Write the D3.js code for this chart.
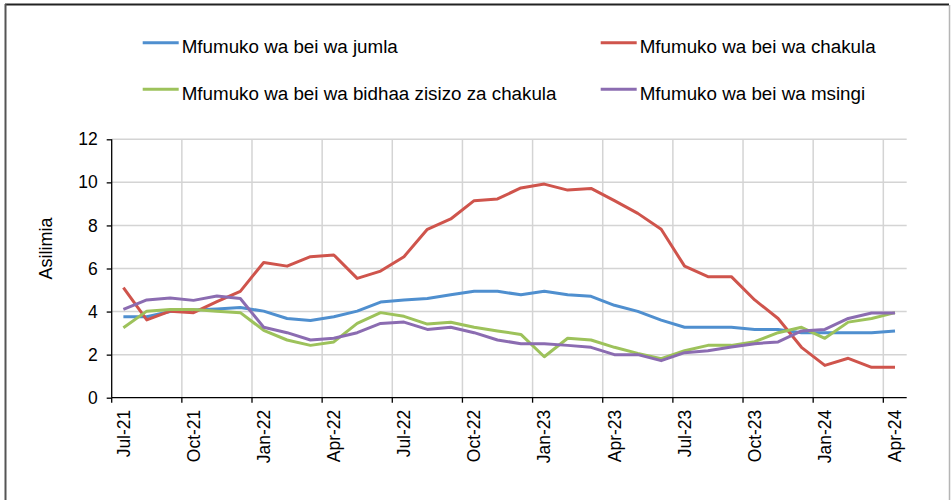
<!DOCTYPE html>
<html>
<head>
<meta charset="utf-8">
<script src="https://cdn.jsdelivr.net/npm/d3@7"></script>
<style>
  body { margin: 0; background: #fff; }
  svg text { font-family: "Liberation Sans", Arial, Helvetica, sans-serif; fill: #000; }
  .grid line { stroke: #d4d4d4; stroke-width: 1.5; }
</style>
</head>
<body>
<script>
var months = ["Jul-21","Aug-21","Sep-21","Oct-21","Nov-21","Dec-21",
              "Jan-22","Feb-22","Mar-22","Apr-22","May-22","Jun-22",
              "Jul-22","Aug-22","Sep-22","Oct-22","Nov-22","Dec-22",
              "Jan-23","Feb-23","Mar-23","Apr-23","May-23","Jun-23",
              "Jul-23","Aug-23","Sep-23","Oct-23","Nov-23","Dec-23",
              "Jan-24","Feb-24","Mar-24","Apr-24"];

var jumla   = [3.76, 3.76, 4.0, 4.07, 4.12, 4.19, 4.02, 3.68, 3.59, 3.76, 4.02, 4.44,
               4.54, 4.61, 4.78, 4.94, 4.94, 4.78, 4.94, 4.78, 4.71, 4.29, 4.01, 3.6,
               3.27, 3.27, 3.27, 3.17, 3.17, 3.02, 3.02, 3.02, 3.02, 3.1];
var chakula = [5.11, 3.61, 4.02, 3.95, 4.46, 4.94, 6.28, 6.11, 6.55, 6.63, 5.54, 5.88,
               6.55, 7.82, 8.3, 9.15, 9.23, 9.74, 9.92, 9.64, 9.72, 9.15, 8.56, 7.82,
               6.11, 5.62, 5.62, 4.54, 3.68, 2.34, 1.5, 1.83, 1.41, 1.41];
var bidhaa  = [3.25, 4.02, 4.1, 4.1, 4.02, 3.95, 3.13, 2.68, 2.43, 2.59, 3.45, 3.95,
               3.78, 3.42, 3.5, 3.27, 3.1, 2.94, 1.9, 2.76, 2.68, 2.34, 2.06, 1.81,
               2.18, 2.43, 2.43, 2.6, 3.02, 3.27, 2.76, 3.51, 3.68, 3.95];
var msingi  = [4.1, 4.54, 4.63, 4.52, 4.72, 4.61, 3.27, 3.02, 2.68, 2.76, 3.02, 3.45,
               3.51, 3.17, 3.27, 3.02, 2.68, 2.51, 2.51, 2.43, 2.34, 2.0, 2.0, 1.72,
               2.09, 2.18, 2.35, 2.51, 2.59, 3.1, 3.17, 3.68, 3.93, 3.93];

var seriesNames = ["Mfumuko wa bei wa jumla", "Mfumuko wa bei wa chakula",
                   "Mfumuko wa bei wa bidhaa zisizo za chakula", "Mfumuko wa bei wa msingi"];
var yTicks = [0, 2, 4, 6, 8, 10, 12];
var yLabel = "Asilimia";

var colors = ["#4f8fcf", "#cf544c", "#9dc25b", "#8b6cb1"];
var series = [jumla, chakula, bidhaa, msingi].map(function(v, i) {
  return { name: seriesNames[i], values: v, color: colors[i] };
});

var width = 951,
    height = 500;

var svg = d3.select("body")
  .append("svg")
  .attr("width", width)
  .attr("height", height);

// outer frame
svg.append("line").attr("x1", 5).attr("x2", 949).attr("y1", 4.5).attr("y2", 4.5)
    .attr("stroke", "#222").attr("stroke-width", 2);
svg.append("line").attr("x1", 5.5).attr("x2", 5.5).attr("y1", 4).attr("y2", height)
    .attr("stroke", "#555").attr("stroke-width", 2);
svg.append("line").attr("x1", 949.5).attr("x2", 949.5).attr("y1", 5).attr("y2", height)
    .attr("stroke", "#b5b5b5").attr("stroke-width", 1.5);

var x = d3.scaleBand()
    .domain(months)
    .range([111.7, 906.7]);

var y = d3.scaleLinear()
    .domain([0, 12])
    .range([397.7, 139.3]);

var tickMonths = months.filter(function(d, i) { return i % 3 === 0; });

// gridlines
var grid = svg.append("g").attr("class", "grid");
grid.selectAll(".h")
    .data(yTicks.slice(1))
  .enter().append("line")
    .attr("x1", x.range()[0]).attr("x2", x.range()[1])
    .attr("y1", function(d) { return y(d); })
    .attr("y2", function(d) { return y(d); });
grid.selectAll(".v")
    .data(tickMonths.slice(1))
  .enter().append("line")
    .attr("x1", function(d) { return x(d); })
    .attr("x2", function(d) { return x(d); })
    .attr("y1", y(12)).attr("y2", y(0));

// lines
var line = d3.line()
    .x(function(d, i) { return x(months[i]) + x.bandwidth() / 2; })
    .y(function(d) { return y(d); });

svg.append("g")
  .selectAll("path")
    .data(series)
  .enter().append("path")
    .attr("fill", "none")
    .attr("stroke", function(d) { return d.color; })
    .attr("stroke-width", 3)
    .attr("stroke-linejoin", "round")
    .attr("d", function(d) { return line(d.values); });

// y axis
var yAxis = svg.append("g")
    .attr("transform", "translate(" + x.range()[0] + ",0)")
    .call(d3.axisLeft(y).tickValues(yTicks).tickSize(5).tickPadding(9));
yAxis.selectAll("path, line").attr("stroke", "#000").attr("stroke-width", 1.3);
yAxis.select(".domain").attr("d", "M0," + y(12) + "V" + y(0));
yAxis.selectAll("text")
    .attr("font-size", 17.5)
    .attr("font-family", "Liberation Sans, Arial, sans-serif");

// x axis
var xAxis = svg.append("g")
    .attr("transform", "translate(0," + y(0) + ")");
xAxis.append("line")
    .attr("x1", x.range()[0]).attr("x2", x.range()[1])
    .attr("stroke", "#000").attr("stroke-width", 1.3);
xAxis.selectAll(".tick")
    .data(tickMonths)
  .enter().append("line")
    .attr("x1", function(d) { return x(d); })
    .attr("x2", function(d) { return x(d); })
    .attr("y1", 0).attr("y2", 5)
    .attr("stroke", "#000").attr("stroke-width", 1.3);
xAxis.selectAll(".lbl")
    .data(tickMonths)
  .enter().append("text")
    .attr("transform", function(d) {
      return "translate(" + (x(d) + x.bandwidth() / 2) + ",12) rotate(-90)";
    })
    .attr("text-anchor", "end")
    .attr("dy", "0.35em")
    .attr("font-size", 17.5)
    .text(function(d) { return d; });

// y title
svg.append("text")
    .attr("transform", "translate(46," + 248.5 + ") rotate(-90)")
    .attr("text-anchor", "middle")
    .attr("dy", "0.35em")
    .attr("font-size", 18)
    .text(yLabel);

// legend
var legendCols = [142.7, 600.7],
    legendRows = [42.7, 89.3];
var legend = svg.append("g")
  .selectAll("g")
    .data(series)
  .enter().append("g")
    .attr("transform", function(d, i) {
      return "translate(" + legendCols[i % 2] + "," + legendRows[Math.floor(i / 2)] + ")";
    });
legend.append("line")
    .attr("x1", 0).attr("x2", 36)
    .attr("stroke", function(d) { return d.color; })
    .attr("stroke-width", 3);
legend.append("text")
    .attr("x", 39)
    .attr("y", 10.6)
    .attr("font-size", 18.8)
    .text(function(d) { return d.name; });
</script>
</body>
</html>
